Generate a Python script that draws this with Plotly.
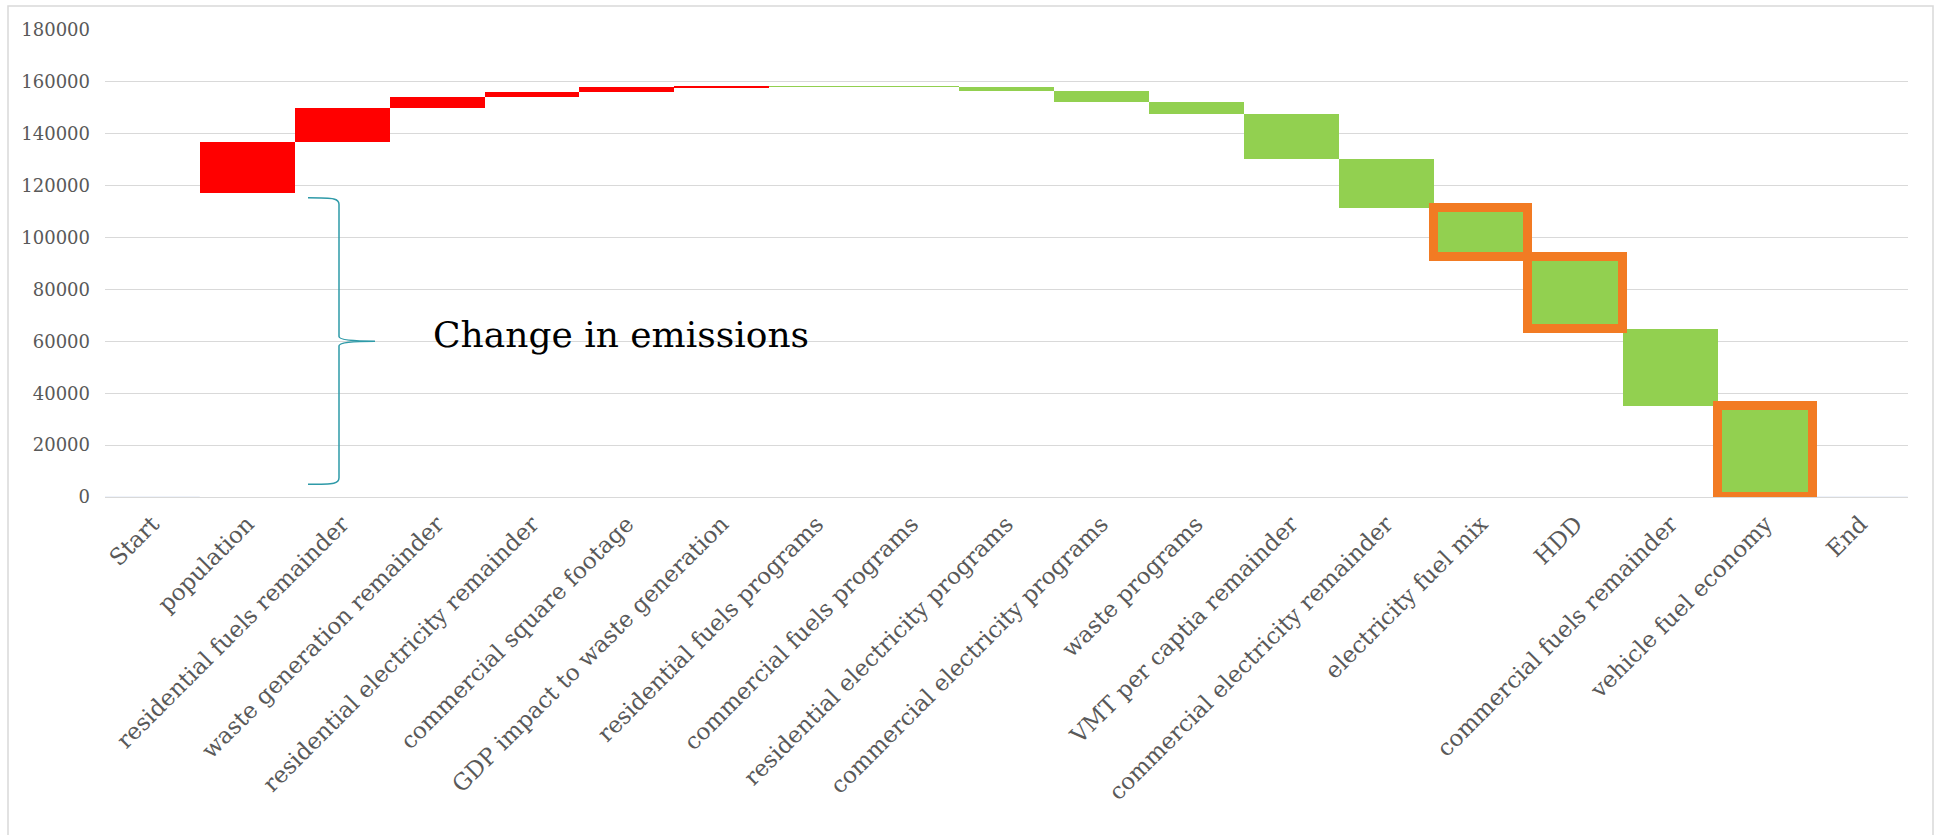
import plotly.graph_objects as go

categories = [
    "Start", "population", "residential fuels remainder", "waste generation remainder",
    "residential electricity remainder", "commercial square footage",
    "GDP impact to waste generation", "residential fuels programs",
    "commercial fuels programs", "residential electricity programs",
    "commercial electricity programs", "waste programs", "VMT per captia remainder",
    "commercial electricity remainder", "electricity fuel mix", "HDD",
    "commercial fuels remainder", "vehicle fuel economy", "End",
]
start_value = 117000
changes = [20000, 13000, 4000, 2000, 2000, 400, -150, -150, -1500, -4300,
           -4600, -17600, -18650, -19000, -27600, -29800, -35050]
highlighted = ["electricity fuel mix", "HDD", "vehicle fuel economy"]
y_ticks = [0, 20000, 40000, 60000, 80000, 100000, 120000, 140000, 160000, 180000]

RED = "#FF0000"
GREEN = "#92D050"
ORANGE = "#F27B23"
GRID = "#D9D9D9"

# running totals -> bases / heights
bar_x, bar_base, bar_h, bar_col = [], [], [], []
level = start_value
for cat, d in zip(categories[1:-1], changes):
    new = level + d
    bar_x.append(cat)
    bar_base.append(min(level, new))
    bar_h.append(abs(d))
    bar_col.append(RED if d > 0 else GREEN)
    level = new

fig = go.Figure()
# invisible start / end to keep categories
fig.add_trace(go.Bar(x=[categories[0], categories[-1]], y=[0, 0],
                     marker=dict(color="rgba(0,0,0,0)"), hoverinfo="skip"))
fig.add_trace(go.Bar(x=bar_x, y=bar_h, base=bar_base,
                     marker=dict(color=bar_col, line=dict(width=0))))
hx = [c for c in bar_x if c in highlighted]
hb = [b for c, b in zip(bar_x, bar_base) if c in highlighted]
hh = [h for c, h in zip(bar_x, bar_h) if c in highlighted]
fig.add_trace(go.Bar(x=hx, y=hh, base=hb,
                     marker=dict(color=GREEN, line=dict(color=ORANGE, width=9))))

W, H = 1936, 835
L, R, T, B = 105, 28, 30, 338
pw = W - L - R
ph = H - T - B

shapes = [
    # outer chart border
    dict(type="rect", xref="paper", yref="paper",
         x0=(8 - L) / pw, x1=(1933 - L) / pw,
         y0=(H - B - 845) / ph, y1=(H - B - 6) / ph,
         line=dict(color=GRID, width=1.5), fillcolor="rgba(0,0,0,0)", layer="below"),
]

def px(x):
    return (x - L) / pw

# curly brace
xt, xv, xm = px(308), px(339), px(375)
ytop, ymid, ybot = 115300, 60050, 4900
path = (f"M {xt},{ytop} C {xv - 0.002},{ytop} {xv},{ytop - 300} {xv},{ytop - 2500} "
        f"L {xv},{ymid + 1800} C {xv},{ymid + 400} {xm - 0.01},{ymid} {xm},{ymid} "
        f"C {xm - 0.01},{ymid} {xv},{ymid - 400} {xv},{ymid - 1800} "
        f"L {xv},{ybot + 2500} C {xv},{ybot + 300} {xv - 0.002},{ybot} {xt},{ybot}")
shapes.append(dict(type="path", xref="paper", yref="y", path=path,
                   line=dict(color="#2E9AA8", width=1.5)))

fig.update_layout(
    width=W, height=H,
    margin=dict(l=L, r=R, t=T, b=B),
    paper_bgcolor="white", plot_bgcolor="white",
    barmode="overlay", bargap=0, showlegend=False,
    shapes=shapes,
    annotations=[dict(text="Change in emissions", xref="paper", yref="y",
                      x=px(431), y=62500, xanchor="left", yanchor="middle",
                      showarrow=False,
                      font=dict(family="DejaVu Serif", size=36, color="black"))],
    xaxis=dict(categoryorder="array", categoryarray=categories,
               tickangle=-45, showgrid=False, zeroline=False, showline=False,
               ticks="", ticklabelstandoff=8,
               tickfont=dict(family="DejaVu Serif", size=23, color="#595959")),
    yaxis=dict(range=[0, 180000], tickvals=y_ticks,
               ticktext=[str(v) for v in y_ticks],
               showgrid=True, gridcolor=GRID, gridwidth=1.3,
               zeroline=True, zerolinecolor=GRID, zerolinewidth=1.3,
               showline=False, ticks="", ticklabelstandoff=14,
               tickfont=dict(family="DejaVu Serif", size=18, color="#595959")),
)

fig.write_html("out.html")
